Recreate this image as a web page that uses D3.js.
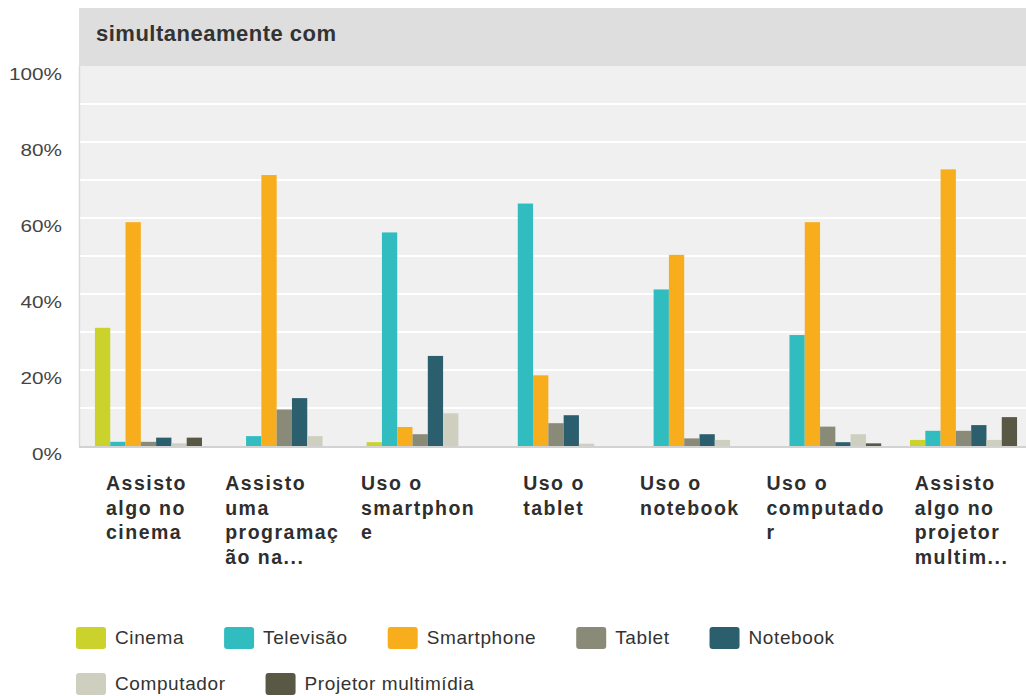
<!DOCTYPE html>
<html>
<head>
<meta charset="utf-8">
<script src="https://cdn.jsdelivr.net/npm/d3@7"></script>
<style>
  html, body { margin: 0; padding: 0; background: #fff; }
  svg { display: block; font-family: "Liberation Sans", Arial, sans-serif; }
</style>
</head>
<body>
<svg id="chart" width="1026" height="696"></svg>
<script>
const [width, height] = [1026, 696]

// Categories (x-axis labels, wrapped as in the picture)
const categories = [
	['Assisto', 'algo no', 'cinema'],
	['Assisto', 'uma', 'programaç', 'ão na...'],
	['Uso o', 'smartphon', 'e'],
	['Uso o', 'tablet'],
	['Uso o', 'notebook'],
	['Uso o', 'computado', 'r'],
	['Assisto', 'algo no', 'projetor', 'multim...'],
]

const seriesNames = ['Cinema', 'Televisão', 'Smartphone', 'Tablet', 'Notebook', 'Computador', 'Projetor multimídia']
const seriesColors = ['#cbd22c', '#31bdbf', '#f7ad1c', '#898a78', '#2c5f6d', '#cfcfc0', '#585844']

// Percent values, one array per series, in category order
const cinema     = [31.1, 0, 1.0, 0, 0, 0, 1.6]
const televisao  = [1.1, 2.6, 56.2, 63.8, 41.2, 29.2, 4.0]
const smartphone = [58.9, 71.3, 5.0, 18.6, 50.3, 58.9, 72.8]
const tablet     = [1.1, 9.6, 3.1, 6.0, 2.0, 5.1, 4.0]
const notebook   = [2.2, 12.6, 23.7, 8.1, 3.1, 1.0, 5.5]
const computador = [0.7, 2.6, 8.6, 0.6, 1.6, 3.1, 1.6]
const projetor   = [2.2, 0, 0, 0, 0, 0.7, 7.6]

const seriesValues = [cinema, televisao, smartphone, tablet, notebook, computador, projetor]
const yTicks = [0, 20, 40, 60, 80, 100]
const gridTicks = [10, 20, 30, 40, 50, 60, 70, 80, 90]

const title = 'simultaneamente com'

const svg = d3.select('#chart')

// Plot frame
const plot = { left: 79, top: 66, bottom: 446 }

const catIndex = categories.map((c, i) => i)

const x0 = d3.scaleBand()
	.domain(catIndex)
	.range([80, 1032])
	.paddingInner(0.212)
	.paddingOuter(0.11)

const x1 = d3.scaleBand()
	.domain(seriesNames)
	.range([0, x0.bandwidth()])
	.padding(0)

const y = d3.scaleLinear()
	.domain([0, 100])
	.range([plot.bottom, plot.top])

// Title bar
svg.append('rect')
	.attr('x', plot.left)
	.attr('y', 8)
	.attr('width', width - plot.left)
	.attr('height', plot.top - 8)
	.attr('fill', '#dedede')

svg.append('text')
	.attr('x', 96)
	.attr('y', 41)
	.attr('font-size', 22)
	.attr('font-weight', 'bold')
	.attr('letter-spacing', 0.5)
	.attr('fill', '#333')
	.text(title)

// Plot background
svg.append('rect')
	.attr('x', plot.left)
	.attr('y', plot.top)
	.attr('width', width - plot.left)
	.attr('height', plot.bottom - plot.top)
	.attr('fill', '#f0f0f0')

svg.append('line')
	.attr('x1', plot.left + 0.5).attr('x2', plot.left + 0.5)
	.attr('y1', plot.top).attr('y2', plot.bottom)
	.attr('stroke', '#dadada')
	.attr('stroke-width', 1.5)

// Gridlines
svg.append('g')
	.selectAll('line')
	.data(gridTicks)
	.enter().append('line')
		.attr('x1', plot.left + 1)
		.attr('x2', width)
		.attr('y1', d => y(d))
		.attr('y2', d => y(d))
		.attr('stroke', '#ffffff')
		.attr('stroke-width', 2)

// Y axis labels
const yAxis = svg.append('g')
	.attr('transform', 'translate(62,0)')
	.call(d3.axisLeft(y).tickValues(yTicks).tickFormat(d => d + '%').tickSize(0).tickPadding(0))

yAxis.select('.domain').remove()
yAxis.selectAll('text')
	.attr('x', 0)
	.attr('dy', null)
	.attr('y', 13)
	.attr('transform', 'scale(1.22,1)')
	.attr('text-anchor', 'end')
	.attr('font-family', '"Liberation Sans", Arial, sans-serif')
	.attr('font-size', 17)
	.attr('fill', '#444')

// Bars
const groups = svg.append('g')
	.selectAll('g')
	.data(catIndex)
	.enter().append('g')
		.attr('transform', i => `translate(${x0(i)},0)`)

groups.selectAll('rect')
		.data(i => seriesNames.map((name, s) => ({ name, color: seriesColors[s], value: seriesValues[s][i] })))
	.enter().append('rect')
		.filter(d => d.value > 0)
		.attr('x', d => x1(d.name))
		.attr('y', d => y(d.value))
		.attr('width', x1.bandwidth())
		.attr('height', d => y(0) - y(d.value))
		.attr('fill', d => d.color)

// Bottom axis line
svg.append('line')
	.attr('x1', plot.left)
	.attr('x2', width)
	.attr('y1', plot.bottom + 1)
	.attr('y2', plot.bottom + 1)
	.attr('stroke', '#d2d2d2')
	.attr('stroke-width', 2)

// X labels: block centred on the band, lines left-aligned
const xLabels = svg.append('g')
	.selectAll('text')
	.data(catIndex)
	.enter().append('text')
		.attr('font-size', 19.5)
		.attr('font-weight', 'bold')
		.attr('letter-spacing', 1.5)
		.attr('fill', '#2e2e2e')

xLabels.each(function (i) {
	const t = d3.select(this)
	categories[i].forEach((line, k) => {
		t.append('tspan')
			.attr('y', 490 + k * 24.7)
			.text(line)
	})
	let maxW = 0
	t.selectAll('tspan').each(function () {
		maxW = Math.max(maxW, this.getComputedTextLength())
	})
	const left = x0(i) + x0.bandwidth() / 2 - maxW / 2 - 2
	t.selectAll('tspan').attr('x', left)
})

// Legend
const legend = svg.append('g')
let lx = 76
let ly = 627
seriesNames.forEach((name, s) => {
	const item = legend.append('g')
	item.append('rect')
		.attr('width', 30)
		.attr('height', 22)
		.attr('rx', 3)
		.attr('fill', seriesColors[s])
	const txt = item.append('text')
		.attr('x', 39)
		.attr('y', 17)
		.attr('font-size', 19)
		.attr('letter-spacing', 0.6)
		.attr('fill', '#333')
		.text(name)
	const w = 39 + txt.node().getComputedTextLength()
	if (lx + w > 990) {
		lx = 76
		ly += 46
	}
	item.attr('transform', `translate(${lx},${ly})`)
	lx += w + 40
})
</script>
</body>
</html>
